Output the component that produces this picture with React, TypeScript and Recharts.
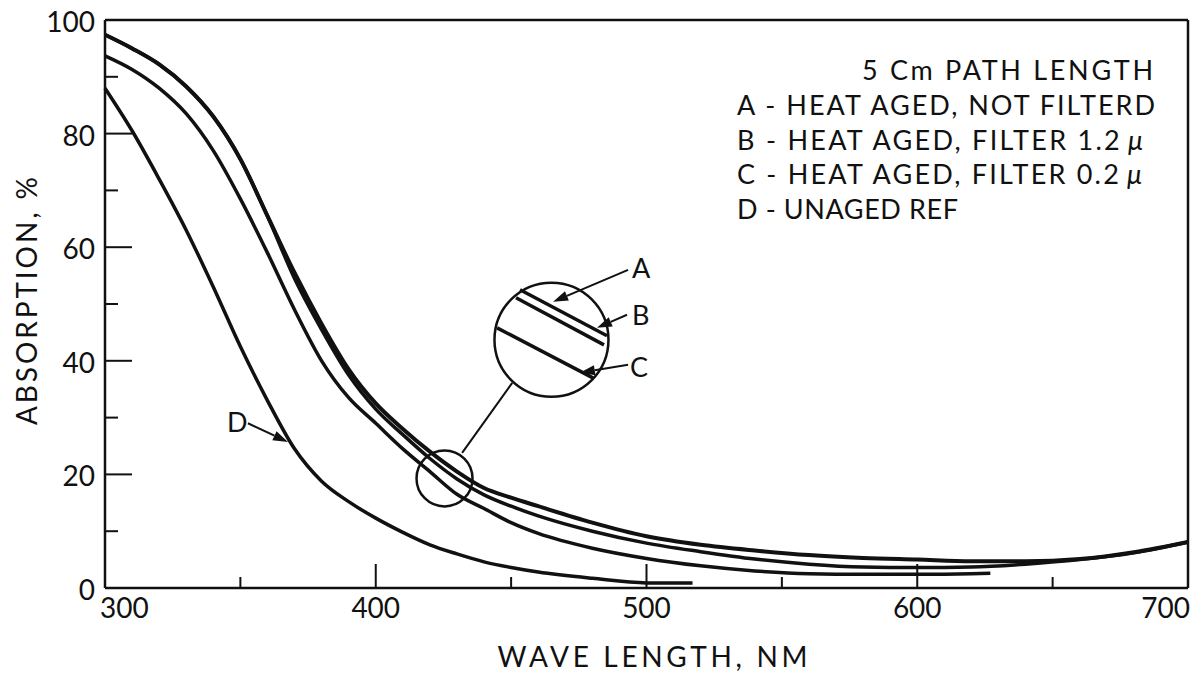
import React from "react";
import { LineChart, Line, XAxis, YAxis, ReferenceLine, ReferenceDot, Label } from "recharts";

// wavelength (nm) / absorption (%)
const WAVE_AB = [300, 310, 320, 330, 340, 350, 360, 370, 380, 390, 400, 410, 420, 430, 440, 450, 460, 480, 500, 520, 540, 560, 580, 600, 620, 640, 660, 680, 700];
const ABS_A = [97.4, 95, 92.2, 88.3, 83, 75.5, 65.5, 55.5, 46.5, 38.5, 32.5, 28, 24, 20.5, 17.6, 15.9, 14.4, 11.5, 9.1, 7.6, 6.6, 5.8, 5.3, 5.0, 4.7, 4.7, 5.1, 6.3, 8.1];
const ABS_B = [97.4, 95, 92.2, 88.3, 83, 75.5, 65.5, 54.5, 45.5, 37.5, 31.5, 27, 22.8, 19.2, 16.4, 14.4, 12.7, 10, 7.9, 6.4, 5.1, 4.2, 3.7, 3.6, 3.7, 4.2, 5.0, 6.2, 8.1];

const WAVE_C = [300, 310, 320, 330, 340, 350, 360, 370, 380, 390, 400, 410, 420, 430, 440, 450, 460, 480, 500, 520, 540, 560, 580, 600, 620, 627];
const ABS_C = [93.7, 91.3, 88, 83.5, 77, 68.5, 59, 49, 40, 33.5, 29, 24.5, 20.5, 16.5, 14, 11.5, 9.6, 7, 5.2, 3.9, 3.0, 2.5, 2.4, 2.4, 2.5, 2.6];

const WAVE_D = [300, 310, 320, 330, 340, 350, 360, 370, 380, 390, 400, 410, 420, 430, 440, 450, 460, 480, 500, 517];
const ABS_D = [88, 80.5, 72, 63, 53, 42.5, 33, 24.5, 18.8, 15.2, 12.3, 9.8, 7.6, 6, 4.6, 3.6, 2.8, 1.7, 0.9, 0.9];

const X_TICKS = [300, 350, 400, 450, 500, 550, 600, 650, 700];
const Y_TICKS = [0, 10, 20, 30, 40, 50, 60, 70, 80, 90, 100];

const LEGEND_TITLE = "5 Cm PATH LENGTH";
const LEGEND_LINES = [
  "A - HEAT AGED, NOT FILTERD",
  "B  - HEAT AGED, FILTER 1.2",
  "C - HEAT AGED, FILTER 0.2",
  "D - UNAGED REF",
];
const LEGEND_WIDTHS = [418, 406, 405, 221];

const FONT = "Lato, 'DejaVu Sans', sans-serif";
const INK = "#111";

const rows = (xs: number[], ys: number[]) => xs.map((w, i) => ({ wave: w, abs: ys[i] }));

const BottomTick = (p: any) => {
  const { x, y, payload } = p;
  const v = payload.value;
  const major = v % 100 === 0;
  const anchor = v === 300 ? "start" : v === 700 ? "end" : "middle";
  const tx = v === 300 ? x - 5 : v === 700 ? x + 2 : x;
  return (
    <g>
      {v !== 300 && v !== 700 && (
        <line x1={x} y1={y} x2={x} y2={y - (major ? 24 : 11)} stroke={INK} strokeWidth={2} />
      )}
      {major && (
        <text x={tx} y={y + 30} textAnchor={anchor} fontFamily={FONT} fontSize={28} fill={INK}>
          {v}
        </text>
      )}
    </g>
  );
};

const TopTick = (p: any) => {
  const { x, y, payload } = p;
  const v = payload.value;
  if (v === 300 || v === 700) return <g />;
  return <line x1={x} y1={y} x2={x} y2={y + (v % 100 === 0 ? 27 : 13)} stroke={INK} strokeWidth={2} />;
};

const LeftTick = (p: any) => {
  const { x, y, payload } = p;
  const v = payload.value;
  const major = v % 20 === 0;
  return (
    <g>
      {v !== 0 && v !== 100 && (
        <line x1={x} y1={y} x2={x + (major ? 27 : 13)} y2={y} stroke={INK} strokeWidth={2} />
      )}
      {major && (
        <text x={x - 10} y={y + 12} textAnchor="end" fontFamily={FONT} fontSize={28} fill={INK}>
          {v}
        </text>
      )}
    </g>
  );
};

const RightTick = (p: any) => {
  const { x, y, payload } = p;
  const v = payload.value;
  if (v === 0 || v === 100) return <g />;
  return <line x1={x} y1={y} x2={x - (v % 20 === 0 ? 27 : 13)} y2={y} stroke={INK} strokeWidth={2} />;
};

const arrowShape = (p: any) => {
  const { x1, y1, x2, y2 } = p;
  const dx = x2 - x1;
  const dy = y2 - y1;
  const len = Math.hypot(dx, dy) || 1;
  const ux = dx / len;
  const uy = dy / len;
  const hl = 15;
  const hw = 5;
  const bx = x2 - ux * hl;
  const by = y2 - uy * hl;
  return (
    <g>
      <line x1={x1} y1={y1} x2={bx} y2={by} stroke={INK} strokeWidth={2} />
      <polygon
        points={`${x2},${y2} ${bx - uy * hw},${by + ux * hw} ${bx + uy * hw},${by - ux * hw}`}
        fill={INK}
      />
    </g>
  );
};

const letter = (s: string) => (p: any) => (
  <text x={p.cx} y={p.cy} fontFamily={FONT} fontSize={27} fill={INK}>
    {s}
  </text>
);

export default function App() {
  return (
    <div style={{ position: "absolute", left: 0, top: 0, width: 1204, height: 684, background: "#fff" }}>
      <LineChart width={1204} height={684} margin={{ top: 19, right: 15, left: 45, bottom: 56 }}>
        <XAxis
          dataKey="wave"
          type="number"
          domain={[300, 700]}
          ticks={X_TICKS}
          interval={0}
          height={40}
          tickSize={0}
          tickMargin={0}
          tickLine={false}
          tick={BottomTick}
          axisLine={{ stroke: INK, strokeWidth: 2.5 }}
        >
          <Label
            content={(lp: any) => {
              const vb = lp.viewBox;
              return (
                <text
                  x={vb.x + vb.width / 2 + 6}
                  y={vb.y + 79}
                  textAnchor="middle"
                  fontFamily={FONT}
                  fontSize={28}
                  fill={INK}
                  textLength={310}
                  lengthAdjust="spacing"
                >
                  WAVE LENGTH, NM
                </text>
              );
            }}
          />
        </XAxis>
        <XAxis
          xAxisId="top"
          orientation="top"
          dataKey="wave"
          type="number"
          domain={[300, 700]}
          ticks={X_TICKS}
          interval={0}
          height={1}
          tickSize={0}
          tickMargin={0}
          tickLine={false}
          tick={TopTick}
          axisLine={{ stroke: INK, strokeWidth: 2.5 }}
        />
        <YAxis
          type="number"
          domain={[0, 100]}
          ticks={Y_TICKS}
          interval={0}
          width={60}
          tickSize={0}
          tickMargin={0}
          tickLine={false}
          tick={LeftTick}
          axisLine={{ stroke: INK, strokeWidth: 2.5 }}
        >
          <Label
            content={(lp: any) => {
              const vb = lp.viewBox;
              const cx = vb.x - 8;
              const cy = vb.y + vb.height / 2 - 3;
              return (
                <text
                  x={cx}
                  y={cy}
                  transform={`rotate(-90, ${cx}, ${cy})`}
                  textAnchor="middle"
                  fontFamily={FONT}
                  fontSize={28}
                  fill={INK}
                  textLength={248}
                  lengthAdjust="spacing"
                >
                  ABSORPTION, %
                </text>
              );
            }}
          />
        </YAxis>
        <YAxis
          yAxisId="right"
          orientation="right"
          type="number"
          domain={[0, 100]}
          ticks={Y_TICKS}
          interval={0}
          width={1}
          tickSize={0}
          tickMargin={0}
          tickLine={false}
          tick={RightTick}
          axisLine={{ stroke: INK, strokeWidth: 2.5 }}
        />

        <Line data={rows(WAVE_AB, ABS_A)} dataKey="abs" type="monotone" stroke={INK} strokeWidth={4} dot={false} isAnimationActive={false} />
        <Line data={rows(WAVE_AB, ABS_B)} dataKey="abs" type="monotone" stroke={INK} strokeWidth={3.5} dot={false} isAnimationActive={false} />
        <Line data={rows(WAVE_C, ABS_C)} dataKey="abs" type="monotone" stroke={INK} strokeWidth={3.5} dot={false} isAnimationActive={false} />
        <Line data={rows(WAVE_D, ABS_D)} dataKey="abs" type="monotone" stroke={INK} strokeWidth={3.5} dot={false} isAnimationActive={false} />

        {/* magnifier */}
        <ReferenceDot x={425.4} y={19.3} r={28} fill="none" stroke={INK} strokeWidth={2.5} />
        <ReferenceLine segment={[{ x: 431.9, y: 23.8 }, { x: 450.4, y: 36.1 }]} stroke={INK} strokeWidth={2} />
        <ReferenceDot x={464.9} y={43.7} r={57} fill="none" stroke={INK} strokeWidth={2.5} />
        <ReferenceLine segment={[{ x: 453.3, y: 52.5 }, { x: 485.4, y: 44.4 }]} stroke={INK} strokeWidth={3.5} />
        <ReferenceLine segment={[{ x: 451.8, y: 51.1 }, { x: 484.3, y: 42.8 }]} stroke={INK} strokeWidth={3.5} />
        <ReferenceLine segment={[{ x: 444.8, y: 45.8 }, { x: 480.2, y: 37.0 }]} stroke={INK} strokeWidth={3.5} />

        {/* arrows and letters */}
        <ReferenceLine segment={[{ x: 493.2, y: 56.0 }, { x: 465.5, y: 50.4 }]} shape={arrowShape} />
        <ReferenceLine segment={[{ x: 492.8, y: 48.1 }, { x: 481.7, y: 45.8 }]} shape={arrowShape} />
        <ReferenceLine segment={[{ x: 493.2, y: 39.3 }, { x: 475.4, y: 37.9 }]} shape={arrowShape} />
        <ReferenceLine segment={[{ x: 352.8, y: 29.0 }, { x: 367.6, y: 25.7 }]} shape={arrowShape} />
        <ReferenceDot x={494.6} y={54.6} r={1} shape={letter("A")} />
        <ReferenceDot x={494.6} y={46.3} r={1} shape={letter("B")} />
        <ReferenceDot x={493.9} y={37.1} r={1} shape={letter("C")} />
        <ReferenceDot x={345.1} y={27.5} r={1} shape={letter("D")} />
      </LineChart>

      <svg width={1204} height={684} style={{ position: "absolute", left: 0, top: 0, pointerEvents: "none" }}>
        <text x={1153} y={80} textAnchor="end" fontFamily={FONT} fontSize={27} fill={INK} textLength={291} lengthAdjust="spacing">
          {LEGEND_TITLE}
        </text>
        {LEGEND_LINES.map((s, i) => (
          <text
            key={s}
            x={737}
            y={115 + i * 34.5}
            fontFamily={FONT}
            fontSize={27}
            fill={INK}
            textLength={LEGEND_WIDTHS[i]}
            lengthAdjust="spacing"
          >
            {s}
            {i === 1 || i === 2 ? <tspan fontStyle="italic" dx={6}>μ</tspan> : null}
          </text>
        ))}
      </svg>
    </div>
  );
}
